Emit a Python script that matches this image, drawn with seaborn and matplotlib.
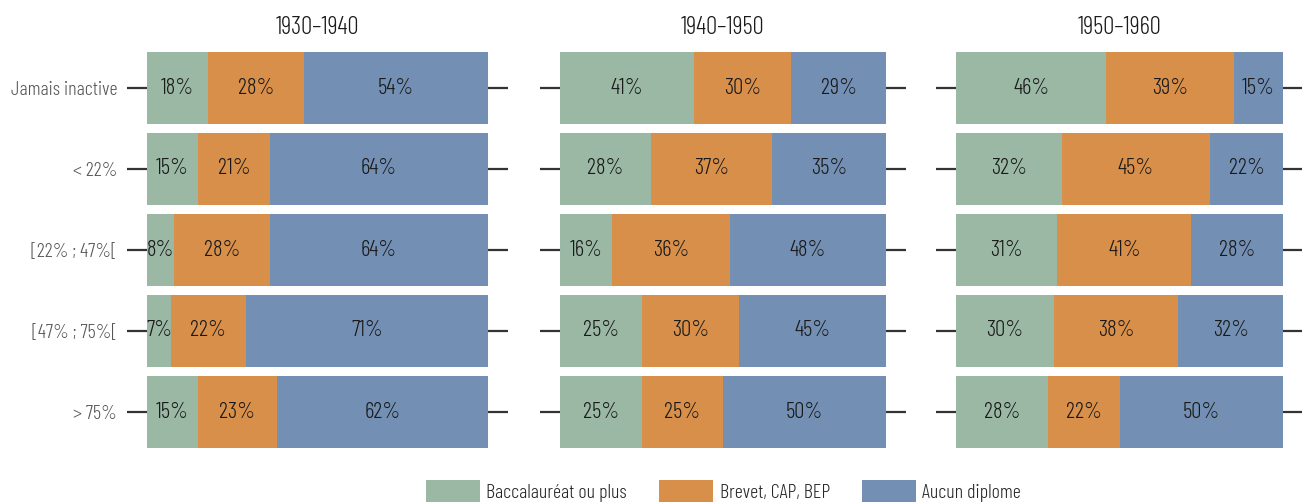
import matplotlib
matplotlib.use("Agg")
import matplotlib.pyplot as plt
from matplotlib import font_manager
from matplotlib.patches import Patch
import seaborn as sns
import pandas as pd
import numpy as np

categories = ["Jamais inactive", "< 22%", "[22% ; 47%[", "[47% ; 75%[", "> 75%"]
periods = ["1930–1940", "1940–1950", "1950–1960"]
series = ["Baccalauréat ou plus", "Brevet, CAP, BEP", "Aucun diplome"]

bac_1930 = [18, 15, 8, 7, 15]
brevet_1930 = [28, 21, 28, 22, 23]
aucun_1930 = [54, 64, 64, 71, 62]

bac_1940 = [41, 28, 16, 25, 25]
brevet_1940 = [30, 37, 36, 30, 25]
aucun_1940 = [29, 35, 48, 45, 50]

bac_1950 = [46, 32, 31, 30, 28]
brevet_1950 = [39, 45, 41, 38, 22]
aucun_1950 = [15, 22, 28, 32, 50]

colors = ["#9AB8A4", "#D88F4A", "#7390B4"]

sns.set_theme(style="white")
names = {f.name for f in font_manager.fontManager.ttflist}
fam = "Barlow Condensed" if "Barlow Condensed" in names else "DejaVu Sans"
plt.rcParams["font.family"] = [fam, "DejaVu Sans"]
plt.rcParams["font.weight"] = 300

W, H = 1302, 504
fig = plt.figure(figsize=(W / 100, H / 100), dpi=100)

panels = [
    (periods[0], bac_1930, brevet_1930, aucun_1930, 147, 341),
    (periods[1], bac_1940, brevet_1940, aucun_1940, 560, 326),
    (periods[2], bac_1950, brevet_1950, aucun_1950, 956, 327),
]

row_px = 81
top_px = 88 - row_px / 2
ax_h = row_px * 5
FS_BAR = 16.5
FS_LAB = 14.5
FS_TITLE = 18

for i, (title, bac, brev, auc, x0, w) in enumerate(panels):
    ax = fig.add_axes([x0 / W, (H - top_px - ax_h) / H, w / W, ax_h / H])
    df = pd.DataFrame({"cat": categories, "bac": bac, "brev": brev, "auc": auc})
    tot = df["bac"] + df["brev"] + df["auc"]
    df["c1"] = df["bac"] / tot * 100
    df["c2"] = (df["bac"] + df["brev"]) / tot * 100
    df["c3"] = (df["bac"] + df["brev"] + df["auc"]) / tot * 100
    for col, c in zip(["c3", "c2", "c1"], colors[::-1]):
        sns.barplot(data=df, x=col, y="cat", order=categories, color=c,
                    width=0.9, orient="h", ax=ax, saturation=1, linewidth=0,
                    edgecolor="none")
    for r in range(5):
        vals = [bac[r], brev[r], auc[r]]
        t = sum(vals)
        left = 0
        for v in vals:
            ax.text((left + v / 2) / t * 100, r, f"{v}%", ha="center", va="center",
                    fontsize=FS_BAR, color="#1a1a1a", fontweight=300)
            left += v
    ax.set_xlim(0, 100)
    ax.set_ylim(4.5, -0.5)
    ax.set_xlabel("")
    ax.set_ylabel("")
    ax.set_xticks([])
    for s in ax.spines.values():
        s.set_visible(False)
    ax.tick_params(axis="y", left=True, right=True, length=14.5, width=1.6,
                   color="#333333", pad=7, labelsize=FS_LAB, labelcolor="#555555",
                   labelleft=(i == 0))
    for lab in ax.get_yticklabels():
        lab.set_fontweight(300)
    fig.text((x0 + w / 2) / W, 1 - 27 / H, title, ha="center", va="center",
             fontsize=FS_TITLE, color="#1a1a1a", fontweight=300)

handles = [Patch(facecolor=c, edgecolor="none", label=s) for c, s in zip(colors, series)]
fig.legend(handles=handles, loc="center", bbox_to_anchor=(723.5 / W, 1 - 491 / H),
           ncol=3, frameon=False, fontsize=FS_LAB, handlelength=2.7, handleheight=1.25,
           handletextpad=0.3, columnspacing=1.6, borderpad=0, borderaxespad=0)

fig.savefig("out.png", dpi=100)
